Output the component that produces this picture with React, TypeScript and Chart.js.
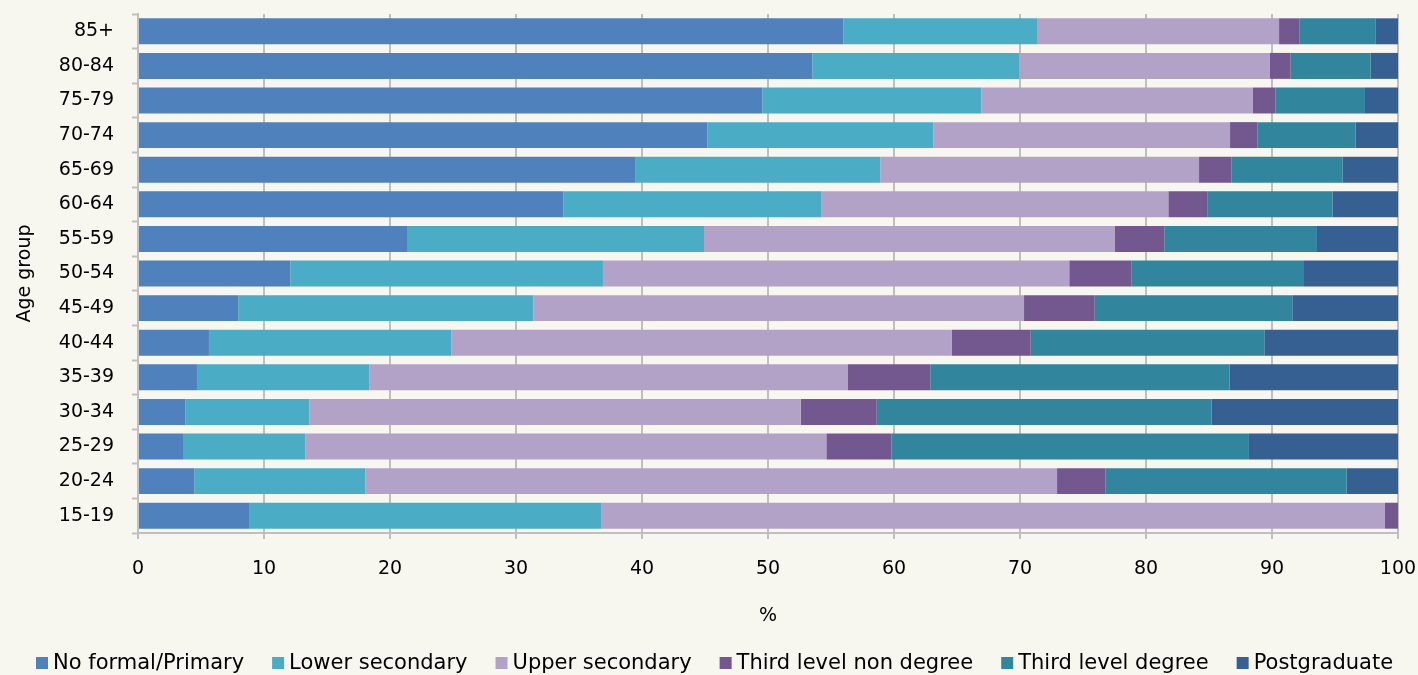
import React, { useEffect, useRef } from "react";
import { Chart, registerables } from "chart.js";

Chart.register(...registerables);

const ageGroups = ["15-19", "20-24", "25-29", "30-34", "35-39", "40-44", "45-49", "50-54", "55-59", "60-64", "65-69", "70-74", "75-79", "80-84", "85+"];

const noFormalPrimary = [8.81, 4.47, 3.57, 3.76, 4.68, 5.63, 7.96, 12.09, 21.35, 33.76, 39.5, 45.18, 49.55, 53.52, 55.98];
const lowerSecondary = [27.94, 13.57, 9.71, 9.84, 13.68, 19.24, 23.41, 24.81, 23.57, 20.45, 19.41, 17.94, 17.38, 16.42, 15.37];
const upperSecondary = [62.22, 54.9, 41.35, 38.99, 37.99, 39.73, 38.95, 37.01, 32.58, 27.56, 25.3, 23.55, 21.56, 19.9, 19.21];
const thirdLevelNonDegree = [1.03, 3.83, 5.16, 6.04, 6.53, 6.25, 5.61, 4.92, 3.95, 3.13, 2.56, 2.16, 1.77, 1.64, 1.64];
const thirdLevelDegree = [0, 19.16, 28.38, 26.58, 23.76, 18.54, 15.68, 13.71, 12.12, 9.91, 8.84, 7.81, 7.12, 6.35, 6.0];
const postgraduate = [0, 4.07, 11.83, 14.79, 13.36, 10.61, 8.39, 7.46, 6.43, 5.19, 4.39, 3.36, 2.62, 2.17, 1.8];

const seriesLabels = ["No formal/Primary", "Lower secondary", "Upper secondary", "Third level non degree", "Third level degree", "Postgraduate"];
const seriesColors = ["#4F81BD", "#4BACC6", "#B3A2C7", "#72588F", "#31859C", "#366092"];

const FONT = '"DejaVu Sans", "Liberation Sans", Arial, sans-serif';
const GRID = "#BFBFBF";

const customLegend = {
  id: "customLegend",
  afterDraw(chart: any) {
    const ctx = chart.ctx;
    ctx.save();
    ctx.font = `21px ${FONT}`;
    ctx.textBaseline = "middle";
    ctx.textAlign = "left";
    const y = 663;
    let x = 36;
    const box = 12;
    const gap = 5;
    const spacing = 28;
    chart.data.datasets.forEach((ds: any) => {
      ctx.fillStyle = ds.backgroundColor;
      ctx.fillRect(x, y - box / 2, box, box);
      ctx.fillStyle = "#000000";
      ctx.fillText(ds.label, x + box + gap, y + 1);
      x += box + gap + ctx.measureText(ds.label).width + spacing;
    });
    ctx.restore();
  },
};

export default function App() {
  const canvasRef = useRef<HTMLCanvasElement | null>(null);

  useEffect(() => {
    const canvas = canvasRef.current;
    if (!canvas) return;
    const values = [noFormalPrimary, lowerSecondary, upperSecondary, thirdLevelNonDegree, thirdLevelDegree, postgraduate];
    const chart = new Chart(canvas, {
      type: "bar",
      data: {
        labels: ageGroups,
        datasets: values.map((v, i) => ({
          label: seriesLabels[i],
          data: v,
          backgroundColor: seriesColors[i],
          borderWidth: 0,
          barPercentage: 0.75,
          categoryPercentage: 1,
        })),
      },
      options: {
        indexAxis: "y",
        responsive: true,
        maintainAspectRatio: false,
        animation: false,
        events: [],
        layout: { padding: { top: 14, right: 20, bottom: 47.6, left: 0 } },
        plugins: {
          legend: { display: false },
          tooltip: { enabled: false },
        },
        scales: {
          x: {
            stacked: true,
            min: 0,
            max: 100,
            ticks: { stepSize: 10, padding: 19, color: "#000000", font: { family: FONT, size: 19 } },
            grid: { color: GRID, lineWidth: 2, drawTicks: true, tickLength: 6, tickColor: GRID, tickWidth: 2 },
            border: { display: true, color: GRID, width: 2 },
            title: { display: true, text: "%", color: "#000000", font: { family: FONT, size: 19 }, padding: { top: 0, bottom: 0 } },
            afterFit: (s: any) => {
              s.height = 94.4;
              s.paddingLeft = 0;
              s.paddingRight = 0;
              s.paddingTop = 0;
              s.paddingBottom = 0;
            },
          },
          y: {
            stacked: true,
            reverse: true,
            ticks: { padding: 18, color: "#000000", font: { family: FONT, size: 19 } },
            grid: { drawOnChartArea: false, drawTicks: true, tickLength: 6, tickColor: GRID, tickWidth: 2, offset: true },
            border: { display: true, color: GRID, width: 2 },
            title: { display: true, text: "Age group", color: "#000000", font: { family: FONT, size: 19 }, padding: { top: 13.6, bottom: 0 } },
            afterFit: (s: any) => {
              s.width = 138;
              s.paddingLeft = 0;
              s.paddingRight = 0;
              s.paddingTop = 0;
              s.paddingBottom = 0;
            },
          },
        },
      },
      plugins: [customLegend],
    });
    return () => chart.destroy();
  }, []);

  return (
    <div style={{ position: "absolute", left: 0, top: 0, width: 1418, height: 675, background: "#F7F7F0" }}>
      <canvas ref={canvasRef} />
    </div>
  );
}
